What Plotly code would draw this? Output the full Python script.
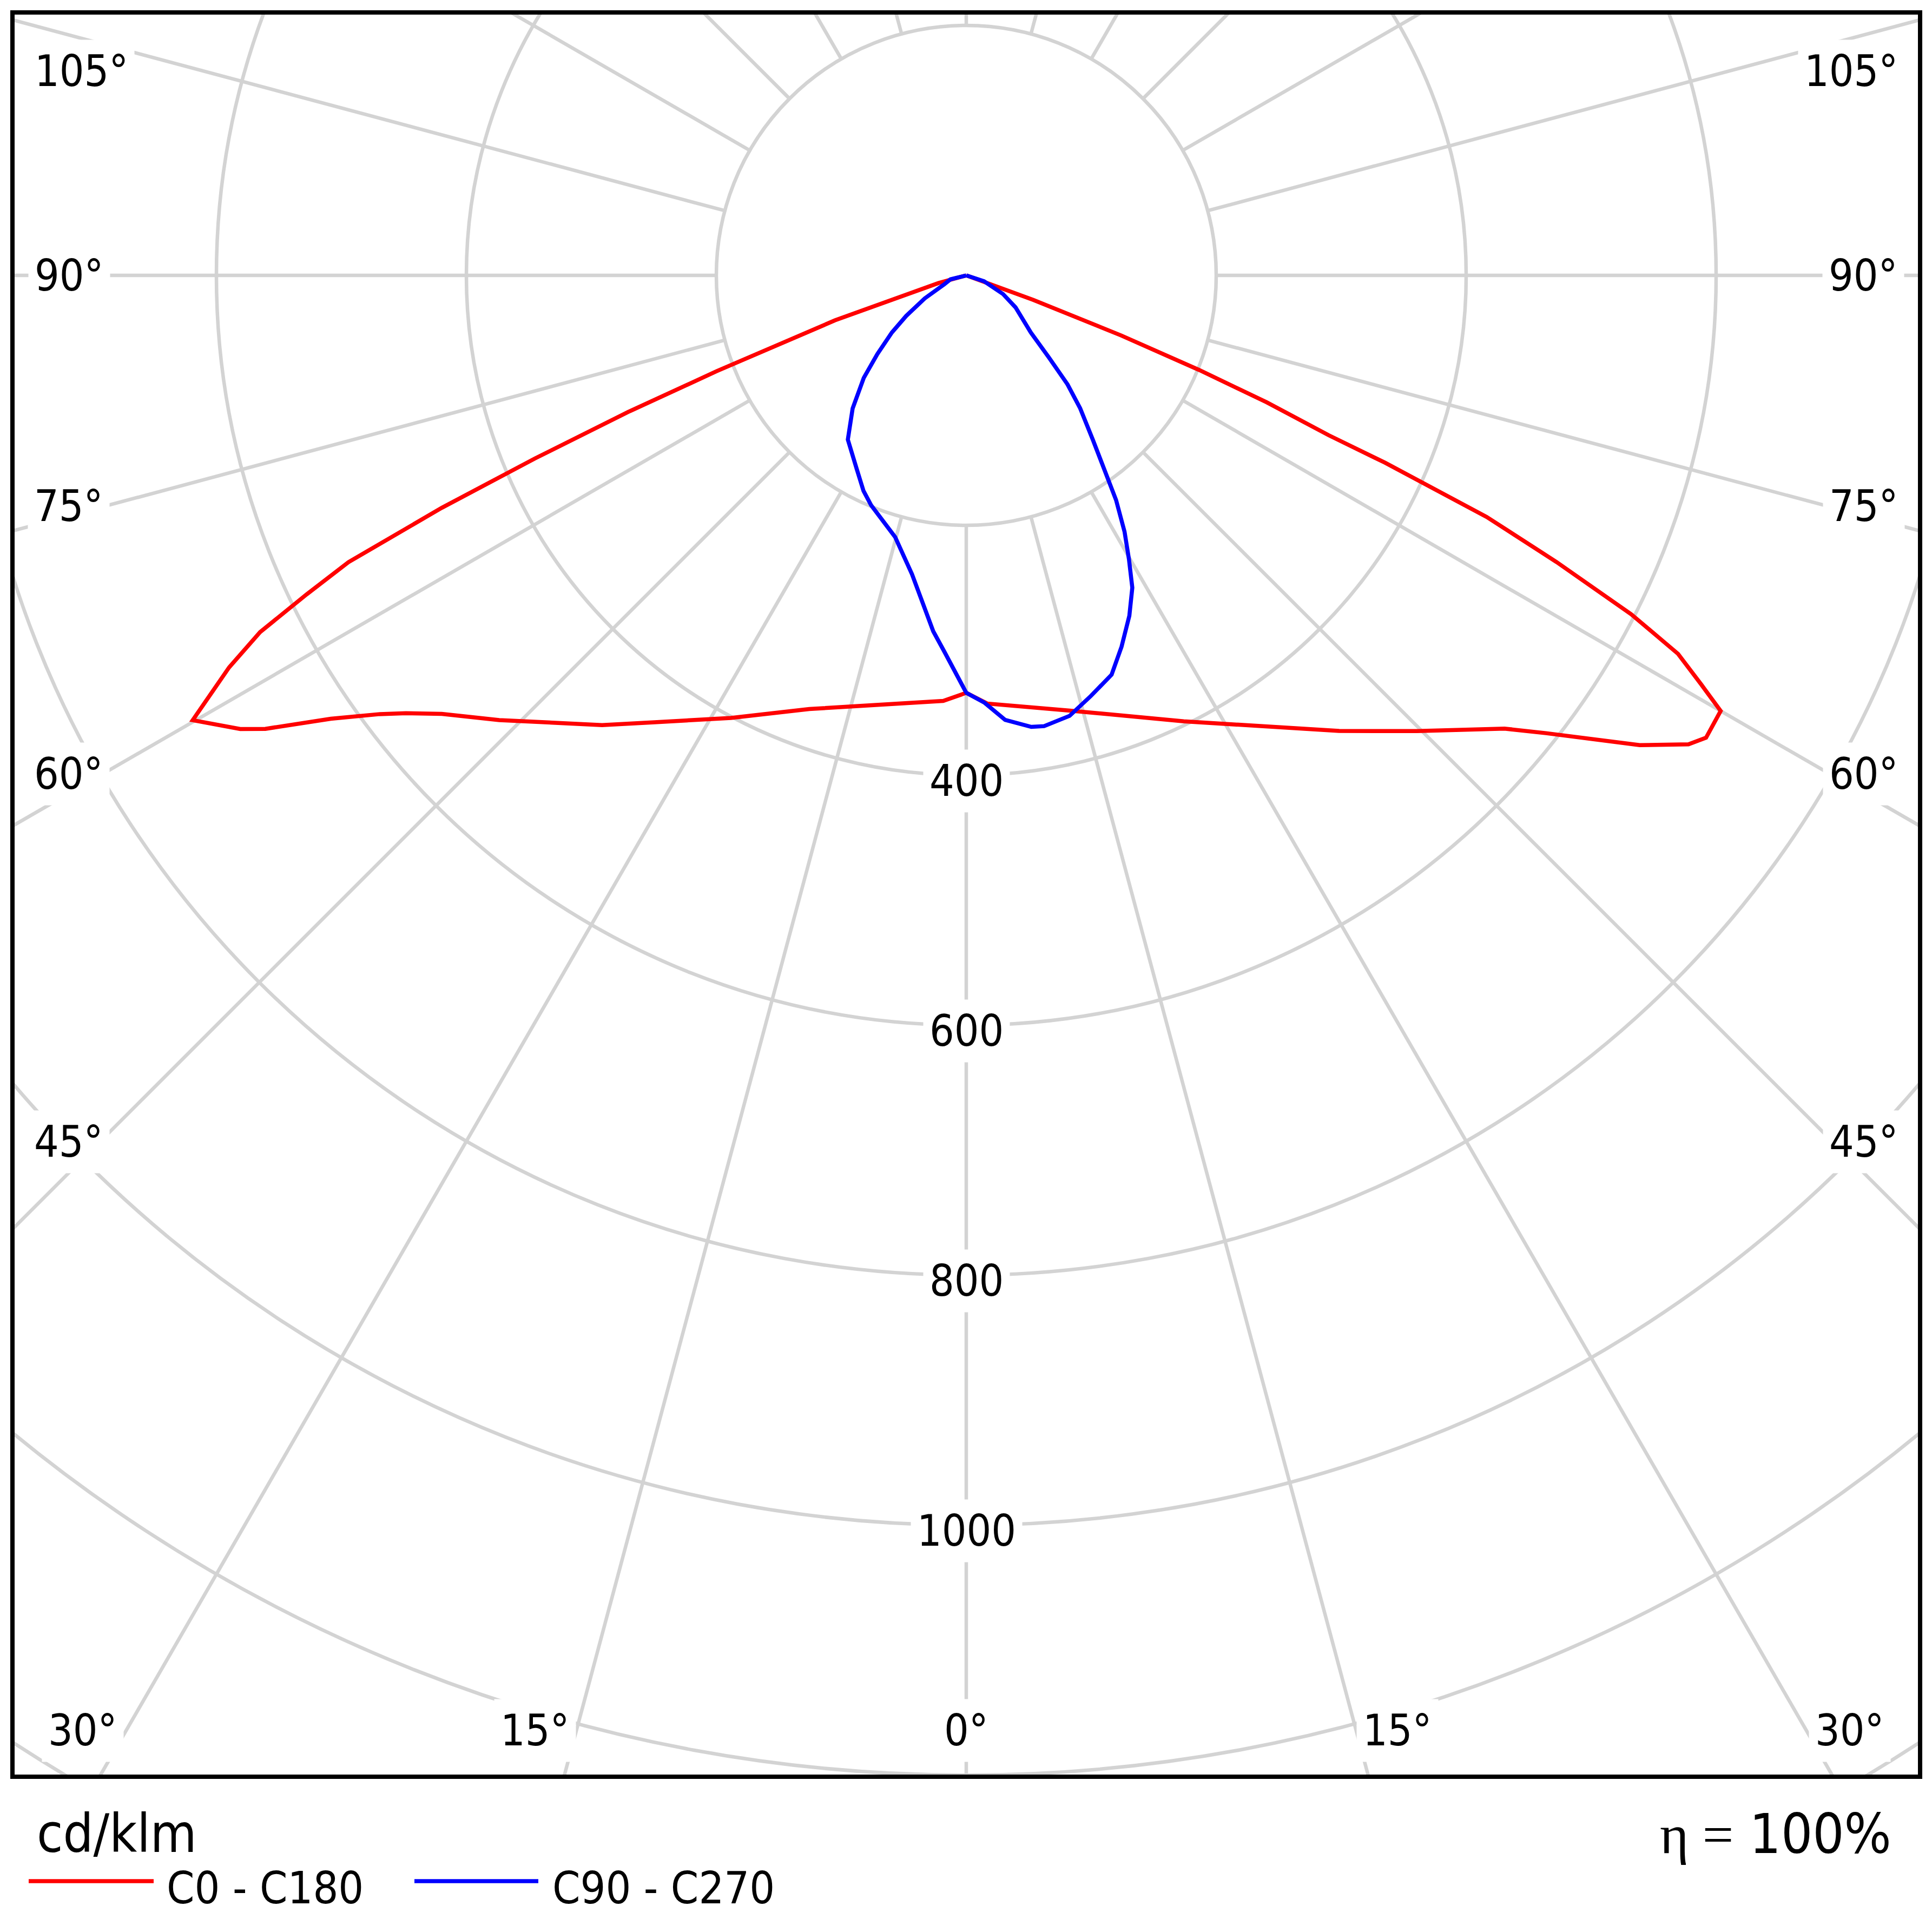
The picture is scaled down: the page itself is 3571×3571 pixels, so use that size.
import numpy as np
import plotly.graph_objects as go

# polar light distribution, gamma in degrees from nadir, values in cd/klm
c0_gamma = [0, 2.8, 13.4, 20.6, 26.0, 39.3, 44.7, 49.9, 51.7, 55.1, 57.0, 58.0, 60.0, 60.9,
            62.0, 63.0, 64.1, 65.1, 65.5, 65.9, 66.2, 67.1, 67.9, 68.8, 69.9, 70.5, 90]
c0_cd = [334, 343, 358, 377, 397, 471, 513, 563, 591, 657, 689, 698, 697, 673,
         645, 597, 525, 459, 401, 367, 317, 261, 201, 133, 57, 18, 0]

c180_gamma = [0, 3.1, 10.5, 19.9, 28.0, 34.9, 39.0, 46.4, 50.1, 52.0, 53.2, 55.1, 57.1,
              58.0, 60.1, 62.0, 63.2, 64.2, 65.1, 66.1, 67.0, 68.0, 69.0, 71.1, 74.6, 90]
c180_cd = [334, 341, 349, 369, 401, 436, 463, 516, 547, 569, 586, 620, 668,
           685, 714, 668, 633, 586, 545, 459, 375, 292, 214, 111, 23, 0]

c90_gamma = [0, 2.4, 5.0, 8.2, 9.8, 13.2, 16.5, 20.0, 22.7, 25.6, 28.0, 29.8,
             31.7, 33.7, 35.3, 37.6, 40.6, 42.9, 45.2, 48.5, 57.0, 63.1, 71.8, 90]
c90_cd = [334, 342, 357, 365, 366, 362, 351, 340, 322, 302, 283, 262,
          241, 216, 193, 166, 140, 119, 93, 69, 47, 33, 15, 0]

c270_gamma = [0, 3.4, 5.3, 7.2, 10.3, 15.2, 18.8, 22.5, 25.5, 29.5, 35.8, 40.5,
              45.0, 48.5, 52.5, 56.0, 61.0, 68.0, 76.0, 90]
c270_cd = [334, 301, 286, 268, 243, 217, 207, 199, 191, 178, 162, 140,
           116, 95, 75, 58, 38, 19, 13, 0]

ring_cd = [200, 400, 600, 800, 1000, 1200, 1400]
ring_labels = [400, 600, 800, 1000]
spoke_deg = list(range(0, 181, 15))
side_angles = [105, 90, 75, 60, 45]
bottom_angles = [30, 15, 0]

unit_text = "cd/klm"
eta_text = "100%"
legend_names = ["C0 - C180", "C90 - C270"]
legend_colors = ["#ff0000", "#0000ff"]

# layout, in pixels of the 3571 page (2.31 px per cd/klm)
W = 3571
OFF = 8  # the page body margin pushes the figure 8 px right and down
FRAME = (23, 23, 3549, 3284)  # left, top, right, bottom of the frame on the page
ML, MT = FRAME[0] - OFF, FRAME[1] - OFF
MR, MB = W - (FRAME[2] - OFF), W - (FRAME[3] - OFF)
X_RANGE = [-763.2, 763.2]
Y_RANGE = [-1201.3, 210.4]
side_pos = {105: (707.8, 163.6), 90: (717.7, 0), 75: (718.2, -184.8),
            60: (718.2, -399.1), 45: (718.2, -693.1)}
bottom_pos = {30: 707.1, 15: 345.0, 0: 0.0}
bottom_y = -1164.5

FONT = "DejaVu Sans Condensed, DejaVu Sans, sans-serif"
GRID = "#d3d3d3"


def half(gamma, cd, sign):
    g = np.radians(gamma)
    cd = np.asarray(cd, dtype=float)
    return sign * cd * np.sin(g), -cd * np.cos(g)


def plane(g_left, cd_left, g_right, cd_right):
    xl, yl = half(g_left, cd_left, -1)
    xr, yr = half(g_right, cd_right, 1)
    return np.concatenate([xl[::-1], xr]), np.concatenate([yl[::-1], yr])


fig = go.Figure()

shapes = []
for r in ring_cd:
    shapes.append(dict(type="circle", xref="x", yref="y", x0=-r, x1=r, y0=-r, y1=r,
                       line=dict(color=GRID, width=6.5), layer="below"))
for a in spoke_deg:
    sides = [1] if a in (0, 180) else [-1, 1]
    for s in sides:
        t = np.radians(a)
        shapes.append(dict(type="line", xref="x", yref="y",
                           x0=s * 200 * np.sin(t), y0=-200 * np.cos(t),
                           x1=s * 2200 * np.sin(t), y1=-2200 * np.cos(t),
                           line=dict(color=GRID, width=6.5), layer="below"))

x, y = plane(c180_gamma, c180_cd, c0_gamma, c0_cd)
fig.add_trace(go.Scatter(x=x, y=y, mode="lines", name=legend_names[0],
                         line=dict(color=legend_colors[0], width=7.5), showlegend=False))
x, y = plane(c270_gamma, c270_cd, c90_gamma, c90_cd)
fig.add_trace(go.Scatter(x=x, y=y, mode="lines", name=legend_names[1],
                         line=dict(color=legend_colors[1], width=7.5), showlegend=False))

annotations = []


def label(text, x, y, **kw):
    d = dict(text=text, x=x, y=y, xref="x", yref="y", showarrow=False,
             xanchor="center", yanchor="middle", bgcolor="white", borderpad=11,
             font=dict(family=FONT, size=80, color="black"))
    d.update(kw)
    annotations.append(d)


for a in side_angles:
    px, py = side_pos[a]
    label(f"{a}°", -px, py)
    label(f"{a}°", px, py)
for a in bottom_angles:
    label(f"{a}°", -bottom_pos[a], bottom_y)
    if a:
        label(f"{a}°", bottom_pos[a], bottom_y)
for v in ring_labels:
    label(str(v), 0, -v - 4.5)

# frame and legend, in paper coordinates
pw = FRAME[2] - FRAME[0]
ph = FRAME[3] - FRAME[1]


def pxx(p):
    return (p - FRAME[0]) / pw


def pxy(p):
    return (FRAME[3] - p) / ph


shapes.append(dict(type="rect", xref="paper", yref="paper", x0=0, x1=1, y0=0, y1=1,
                   line=dict(color="black", width=8), layer="above"))

legend_line = [(53, 284), (766, 995)]
legend_text_x = [306, 1019]
for (a, b), tx, name, col in zip(legend_line, legend_text_x, legend_names, legend_colors):
    shapes.append(dict(type="line", xref="paper", yref="paper",
                       x0=pxx(a), x1=pxx(b), y0=pxy(3477), y1=pxy(3477),
                       line=dict(color=col, width=7.5)))
    annotations.append(dict(text=name, x=pxx(tx), y=pxy(3490), xref="paper", yref="paper",
                            showarrow=False, xanchor="left", yanchor="middle",
                            font=dict(family=FONT, size=82, color="black")))

annotations.append(dict(text=unit_text, x=pxx(66), y=pxy(3389), xref="paper", yref="paper",
                        showarrow=False, xanchor="left", yanchor="middle",
                        font=dict(family=FONT, size=98, color="black")))
annotations.append(dict(
    text='<span style="font-family:Liberation Serif">η&nbsp;=</span>&nbsp;' + eta_text,
    x=pxx(3498), y=pxy(3389), xref="paper", yref="paper",
    showarrow=False, xanchor="right", yanchor="middle",
    font=dict(family=FONT, size=102, color="black")))

fig.update_layout(
    width=W, height=W,
    margin=dict(l=ML, r=MR, t=MT, b=MB),
    paper_bgcolor="white", plot_bgcolor="white",
    xaxis=dict(range=X_RANGE, visible=False, showgrid=False, zeroline=False),
    yaxis=dict(range=Y_RANGE, visible=False, showgrid=False, zeroline=False),
    shapes=shapes, annotations=annotations,
)

fig.write_html("out.html")
